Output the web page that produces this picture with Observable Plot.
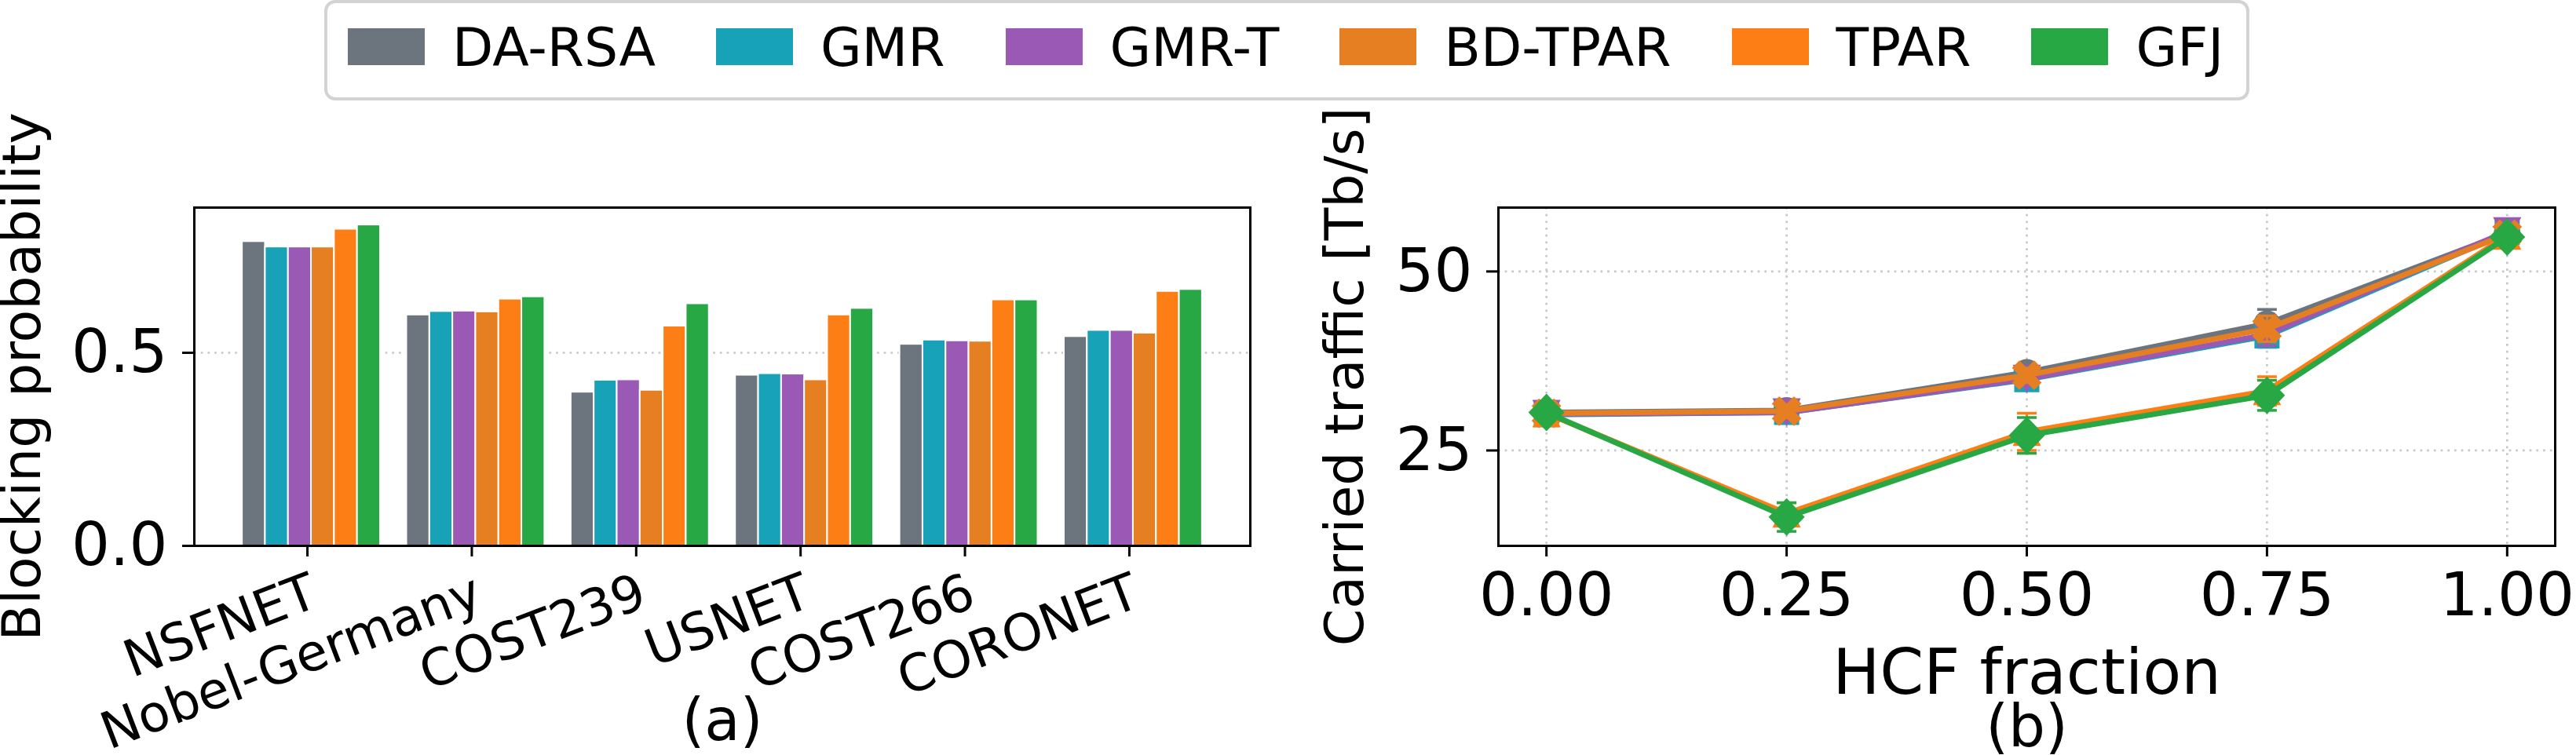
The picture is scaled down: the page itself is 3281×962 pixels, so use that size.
<!DOCTYPE html>
<html><head><meta charset="utf-8">
<script src="https://cdn.jsdelivr.net/npm/d3@7"></script>
<script src="https://cdn.jsdelivr.net/npm/@observablehq/plot@0.6"></script>
<style>
body{margin:0;background:#fff;font-family:"DejaVu Sans",sans-serif;}
#root{position:relative;width:3281px;height:962px;overflow:hidden;background:#fff;}
#left,#right{position:absolute;top:0;}
#left{left:0}
#right{left:1640px}
#legend{position:absolute;left:413px;top:0px;height:128px;box-sizing:border-box;border:4px solid #d3d3d3;border-radius:14px;display:flex;align-items:flex-start;padding:0 29px 0 26px;background:#fff;z-index:2}
.item{display:flex;align-items:flex-start;margin-right:77px}
.item:last-child{margin-right:0}
.sw{width:98px;height:47px;margin-right:35px;margin-top:32px}
.lbl{font-size:68px;line-height:1;margin-top:22.5px;color:#000;white-space:nowrap}
</style>
</head><body>
<div id="root">
  <div id="legend"></div>
  <div id="left"></div>
  <div id="right"></div>
</div>
<script>
// ---- data ----
const methods = ["DA-RSA","GMR","GMR-T","BD-TPAR","TPAR","GFJ"];
const colors = ["#6c757d","#17a2b8","#9b59b6","#e67e22","#fd7e14","#28a745"];
const networks = ["NSFNET","Nobel-Germany","COST239","USNET","COST266","CORONET"];

// (a) blocking probability per network
const bpDARSA  = [0.788, 0.598, 0.398, 0.442, 0.522, 0.542];
const bpGMR    = [0.774, 0.607, 0.429, 0.446, 0.533, 0.558];
const bpGMRT   = [0.774, 0.608, 0.430, 0.445, 0.531, 0.558];
const bpBDTPAR = [0.774, 0.606, 0.403, 0.430, 0.530, 0.551];
const bpTPAR   = [0.820, 0.639, 0.569, 0.598, 0.637, 0.659];
const bpGFJ    = [0.831, 0.645, 0.627, 0.615, 0.637, 0.664];

// (b) carried traffic vs HCF fraction
const hcf = [0, 0.25, 0.5, 0.75, 1.0];
const ctDARSA  = [30.3, 30.6, 35.9, 42.7, 55.4];
const ctGMR    = [30.0, 30.3, 34.9, 41.0, 55.4];
const ctGMRT   = [30.1, 30.3, 35.0, 41.2, 55.6];
const ctBDTPAR = [30.2, 30.5, 35.5, 42.0, 55.2];
const ctTPAR   = [30.2, 16.2, 27.6, 33.3, 55.0];
const ctGFJ    = [30.3, 15.7, 27.1, 32.7, 54.8];
const errDARSA  = [0.8, 0.8, 1.0, 2.0, 0.8];
const errGMR    = [0.8, 0.9, 1.0, 1.6, 0.8];
const errGMRT   = [0.8, 0.9, 1.0, 1.6, 0.8];
const errBDTPAR = [0.8, 0.9, 1.0, 1.8, 0.8];
const errTPAR   = [0.8, 1.5, 2.6, 2.0, 0.9];
const errGFJ    = [0.7, 2.0, 2.5, 2.1, 0.9];

const xTicksB = [0, 0.25, 0.5, 0.75, 1.0];
const yTicksA = [0, 0.5];
const yTicksB = [25, 50];

const bpSeries = [bpDARSA, bpGMR, bpGMRT, bpBDTPAR, bpTPAR, bpGFJ];
const ctSeries = [ctDARSA, ctGMR, ctGMRT, ctBDTPAR, ctTPAR, ctGFJ];
const errSeries = [errDARSA, errGMR, errGMRT, errBDTPAR, errTPAR, errGFJ];

// ---- legend ----
const leg = document.getElementById("legend");
methods.forEach((m, i) => {
  const it = document.createElement("div"); it.className = "item";
  const sw = document.createElement("div"); sw.className = "sw"; sw.style.background = colors[i];
  const lb = document.createElement("div"); lb.className = "lbl"; lb.textContent = m;
  it.appendChild(sw); it.appendChild(lb); leg.appendChild(it);
});

const FONT = "DejaVu Sans";
const colorScale = {domain: methods, range: colors};
const BW = 0.14;

// ---- (a) bars ----
const barRows = [];
methods.forEach((m, j) => {
  networks.forEach((n, i) => {
    barRows.push({method: m, network: n, pos: i + (j - 2.5) * BW, value: bpSeries[j][i]});
  });
});

const gridStyle = {stroke: "#c8c8c8", strokeOpacity: 1, strokeWidth: 2.7, strokeDasharray: "2.7,6"};

const left = Plot.plot({
  width: 1640, height: 962,
  marginLeft: 247, marginRight: 48, marginTop: 264, marginBottom: 267,
  style: {fontFamily: FONT, background: "transparent", color: "black", overflow: "visible"},
  x: {type: "linear", domain: [-0.712, 5.712]},
  y: {domain: [0, 0.876]},
  color: colorScale,
  marks: [
    Plot.gridY([0.5], gridStyle),
    Plot.rectY(barRows, {x1: d => d.pos - BW / 2, x2: d => d.pos + BW / 2, y: "value", fill: "method", stroke: "white", strokeWidth: 2}),
    Plot.frame({stroke: "black", strokeWidth: 3}),
    Plot.axisY(yTicksA, {tickFormat: d3.format(".1f"), tickSize: 15, tickPadding: 19, strokeWidth: 3, fontSize: 77, label: null}),
    Plot.axisX(d3.range(networks.length), {tickFormat: i => networks[i], tickSize: 14, tickPadding: 19, strokeWidth: 3, fontSize: 65, tickRotate: -21, textAnchor: "end", lineAnchor: "top", dx: -5, label: null}),
    Plot.text(["Blocking probability"], {frameAnchor: "left", dx: -218, rotate: -90, fontSize: 68, textAnchor: "middle", lineAnchor: "middle"}),
    Plot.text(["(a)"], {frameAnchor: "bottom", dy: 224, fontSize: 74, textAnchor: "middle", lineAnchor: "middle"})
  ]
});
document.getElementById("left").appendChild(left);

// ---- (b) lines ----
const symbols = [
  {draw(c) { c.moveTo(17, 0); c.arc(0, 0, 17, 0, 2 * Math.PI); c.closePath(); }},
  {draw(c) { const s = 16; c.moveTo(-s, -s); c.lineTo(s, -s); c.lineTo(s, s); c.lineTo(-s, s); c.closePath(); }},
  {draw(c) { const s = 18; c.moveTo(-s, -s); c.lineTo(s, -s); c.lineTo(0, s); c.closePath(); }},
  {draw(c) {
    const a = 20, b = 6.7, r = Math.SQRT1_2;
    const pts = [[b,b],[b,a],[-b,a],[-b,b],[-a,b],[-a,-b],[-b,-b],[-b,-a],[b,-a],[b,-b],[a,-b],[a,b]];
    pts.forEach(([x, y], k) => { const X = (x - y) * r, Y = (x + y) * r; if (k) c.lineTo(X, Y); else c.moveTo(X, Y); });
    c.closePath();
  }},
  {draw(c) { const s = 18; c.moveTo(0, -s); c.lineTo(s, s); c.lineTo(-s, s); c.closePath(); }},
  {draw(c) { c.moveTo(0, -24); c.lineTo(23, 0); c.lineTo(0, 24); c.lineTo(-23, 0); c.closePath(); }}
];
const capSymbol = {draw(c) { c.moveTo(-12.5, 0); c.lineTo(12.5, 0); }};

const lineMarks = [];
methods.forEach((m, j) => {
  const rows = hcf.map((x, i) => ({method: m, x, y: ctSeries[j][i], lo: ctSeries[j][i] - errSeries[j][i], hi: ctSeries[j][i] + errSeries[j][i]}));
  lineMarks.push(
    Plot.ruleX(rows, {x: "x", y1: "lo", y2: "hi", stroke: "method", strokeWidth: 3}),
    Plot.dot(rows, {x: "x", y: "lo", symbol: capSymbol, r: 5, stroke: "method", strokeWidth: 3.5, fill: "none"}),
    Plot.dot(rows, {x: "x", y: "hi", symbol: capSymbol, r: 5, stroke: "method", strokeWidth: 3.5, fill: "none"}),
    Plot.line(rows, {x: "x", y: "y", stroke: "method", strokeWidth: 7}),
    Plot.dot(rows, {x: "x", y: "y", symbol: symbols[j], r: 5, fill: "method", stroke: "none"})
  );
});

const right = Plot.plot({
  width: 1641, height: 962,
  marginLeft: 268, marginRight: 27, marginTop: 264, marginBottom: 267,
  style: {fontFamily: FONT, background: "transparent", color: "black", overflow: "visible"},
  x: {domain: [-0.05, 1.05]},
  y: {domain: [11.68, 58.92]},
  color: colorScale,
  marks: [
    Plot.gridX(xTicksB, gridStyle),
    Plot.gridY(yTicksB, gridStyle),
    ...lineMarks,
    Plot.frame({stroke: "black", strokeWidth: 3}),
    Plot.axisY(yTicksB, {tickSize: 15, tickPadding: 18, strokeWidth: 3, fontSize: 77, label: null}),
    Plot.axisX(xTicksB, {tickFormat: d3.format(".2f"), tickSize: 14, tickPadding: 20, strokeWidth: 3, fontSize: 77, label: null}),
    Plot.text(["Carried traffic [Tb/s]"], {frameAnchor: "left", dx: -194, rotate: -90, fontSize: 68, textAnchor: "middle", lineAnchor: "middle"}),
    Plot.text(["HCF fraction"], {frameAnchor: "bottom", dy: 163, fontSize: 80, textAnchor: "middle", lineAnchor: "middle"}),
    Plot.text(["(b)"], {frameAnchor: "bottom", dy: 232, fontSize: 74, textAnchor: "middle", lineAnchor: "middle"})
  ]
});
document.getElementById("right").appendChild(right);
</script>
</body></html>
